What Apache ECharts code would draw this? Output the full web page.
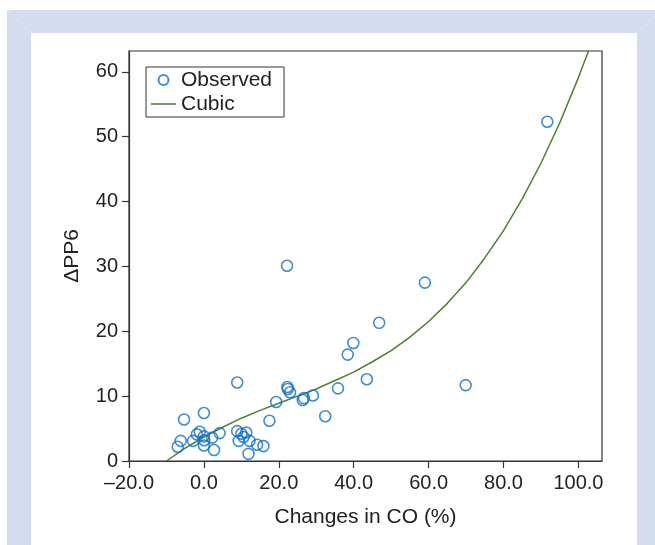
<!DOCTYPE html>
<html>
<head>
<meta charset="utf-8">
<script src="https://cdn.jsdelivr.net/npm/echarts@6/dist/echarts.min.js"></script>
<style>
  html, body { margin: 0; padding: 0; background: #fff; }
  #chart { width: 655px; height: 545px; }
</style>
</head>
<body>
<div id="chart"></div>
<script>
// observed points (changes in CO %, delta PP6)
var obsX = [-7.0, -6.2, -5.3, -2.9, -1.9, -1.1, 0.0, 0.0, 0.1, 0.0, 2.2, 2.7, 4.2,
    8.9, 8.9, 9.3, 10.0, 10.6, 11.3, 11.9, 12.2, 14.2, 15.9, 17.5, 19.3,
    22.2, 22.3, 22.4, 23.0, 26.4, 26.7, 29.1, 32.4, 35.8, 38.4, 39.9, 43.5,
    46.8, 59.0, 69.9, 91.7];
var obsY = [2.2, 3.1, 6.4, 3.1, 4.1, 4.5, 7.4, 3.8, 3.2, 2.4, 3.6, 1.7, 4.3,
    12.1, 4.6, 3.1, 4.2, 3.7, 4.4, 1.1, 3.1, 2.5, 2.3, 6.2, 9.1,
    30.1, 11.4, 11.1, 10.6, 9.4, 9.7, 10.1, 6.9, 11.2, 16.4, 18.2, 12.6,
    21.3, 27.5, 11.7, 52.3];

// cubic curve
var fitX = [-10, -5, 0, 5, 10, 15, 20, 25, 30, 35, 40, 45, 50, 55, 60, 65, 70, 75, 80, 85, 90, 95, 100, 102.7];
var fitY = [0.0, 2.0, 3.7, 5.2, 6.6, 7.8, 8.9, 10.0, 11.1, 12.4, 13.7, 15.3, 17.0, 19.1, 21.5, 24.3, 27.5, 31.3, 35.5, 40.4, 45.9, 52.1, 59.1, 63.2];

// ticks
var xTicks = [-20, 0, 20, 40, 60, 80, 100];
var yTicks = [0, 10, 20, 30, 40, 50, 60];

var FONT = '"Liberation Sans", Arial, sans-serif';
var chart = echarts.init(document.getElementById('chart'));

var obsData = obsX.map(function (x, i) { return [x, obsY[i]]; });
var fitData = fitX.map(function (x, i) { return [x, fitY[i]]; });

chart.setOption({
    animation: false,
    backgroundColor: '#fff',
    //page frame
    graphic: [
        {type: 'rect', z: -10, silent: true, shape: {x: 7, y: 10, width: 648, height: 535}, style: {fill: '#d4ddee'}},
        {type: 'rect', z: -9, silent: true, shape: {x: 31, y: 33, width: 606, height: 512}, style: {fill: '#ffffff'}},
        {type: 'line', z: -8, silent: true, shape: {x1: 7, y1: 10, x2: 31, y2: 33}, style: {stroke: '#e3e8f3', lineWidth: 1}},
        {type: 'line', z: -8, silent: true, shape: {x1: 655, y1: 16, x2: 637, y2: 33}, style: {stroke: '#e3e8f3', lineWidth: 1}}
    ],
    grid: {
        left: 129, right: 53, top: 51, bottom: 84,
        show: true, borderColor: '#333', borderWidth: 1.2,
        outerBoundsMode: 'none'
    },
    legend: {
        orient: 'vertical',
        left: 146, top: 67,
        borderColor: '#333', borderWidth: 1,
        padding: [2, 12, 2, 5],
        itemGap: 2,
        itemWidth: 25, itemHeight: 10,
        textStyle: {fontFamily: FONT, fontSize: 21, color: '#222', lineHeight: 22},
        data: [
            'Observed',
            {name: 'Cubic', icon: 'path://M0,0 L48,0 L48,3 L0,3 Z'}
        ]
    },
    xAxis: {
        type: 'value',
        min: -20, max: 106.3,
        name: 'Changes in CO (%)',
        nameLocation: 'middle',
        nameGap: 46,
        nameTextStyle: {fontFamily: FONT, fontSize: 21, color: '#222'},
        axisLine: {show: true, onZero: false, lineStyle: {color: '#333', width: 1.2}},
        axisTick: {show: true, length: 7, customValues: xTicks, lineStyle: {color: '#333', width: 1.2}},
        axisLabel: {
            customValues: xTicks,
            fontFamily: FONT, fontSize: 20, color: '#222', margin: 12,
            formatter: function (v) { return (v < 0 ? '\u2013' : '') + Math.abs(v).toFixed(1); }
        },
        splitLine: {show: false}
    },
    yAxis: {
        type: 'value',
        min: 0, max: 63.2,
        name: '\u0394PP6',
        nameLocation: 'middle',
        nameGap: 46,
        nameTextStyle: {fontFamily: FONT, fontSize: 21, color: '#222'},
        axisLine: {show: true, onZero: false, lineStyle: {color: '#333', width: 1.2}},
        axisTick: {show: true, length: 7, customValues: yTicks, lineStyle: {color: '#333', width: 1.2}},
        axisLabel: {customValues: yTicks, fontFamily: FONT, fontSize: 20, color: '#222', margin: 11},
        splitLine: {show: false}
    },
    series: [{
        name: 'Observed',
        type: 'scatter',
        symbol: 'circle',
        symbolSize: 11,
        itemStyle: {color: 'rgba(0,0,0,0)', borderColor: '#1170c0', borderWidth: 1.6},
        data: obsData,
        z: 3
    }, {
        name: 'Cubic',
        type: 'line',
        symbol: 'none',
        clip: true,
        lineStyle: {color: '#4b8033', width: 1.5},
        itemStyle: {color: '#4b8033'},
        data: fitData,
        z: 2
    }]
});
</script>
</body>
</html>
